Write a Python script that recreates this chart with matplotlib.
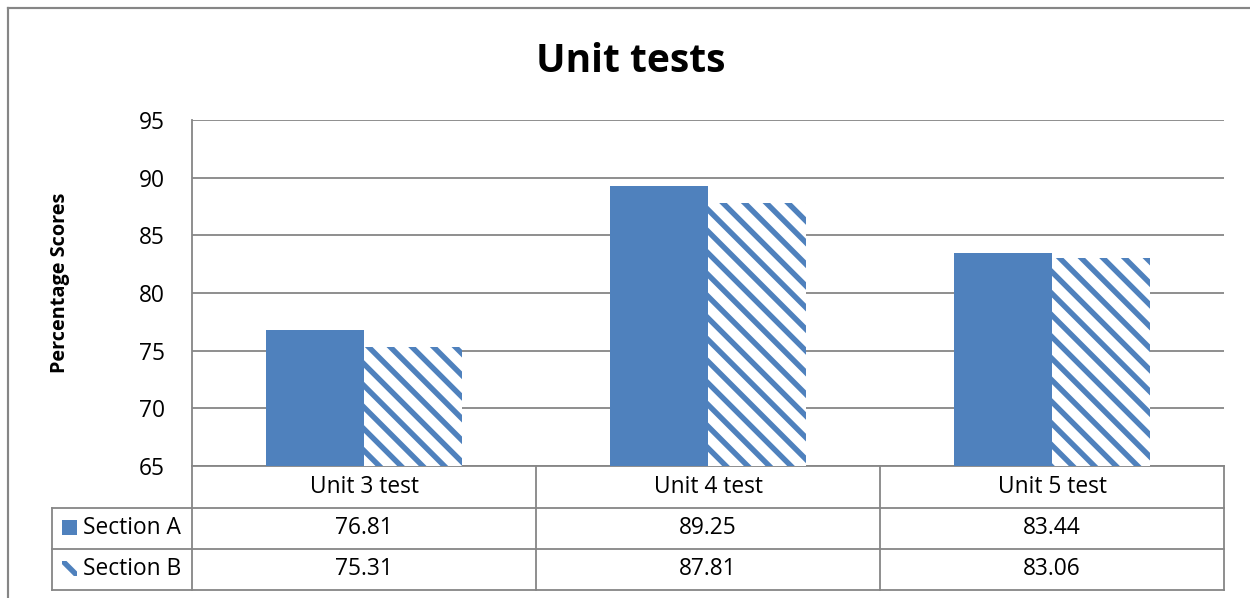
import matplotlib
matplotlib.use("Agg")
import matplotlib.pyplot as plt
from matplotlib.patches import Rectangle
from matplotlib.lines import Line2D
import matplotlib.transforms as mtransforms

categories = ["Unit 3 test", "Unit 4 test", "Unit 5 test"]
series_names = ["Section A", "Section B"]
section_a = [76.81, 89.25, 83.44]
section_b = [75.31, 87.81, 83.06]
y_ticks = [65, 70, 75, 80, 85, 90, 95]
title = "Unit tests"
y_label = "Percentage Scores"

BLUE = "#4F81BD"
GRID = "#868686"
W, H = 1250, 598
DPI = 130
FS = 12.6

plt.rcParams['font.family'] = ['Open Sans', 'DejaVu Sans']
plt.rcParams['hatch.linewidth'] = 3.0

fig = plt.figure(figsize=(W / DPI, H / DPI), dpi=DPI)

def fx(x):
    return x / W

def fy(y):
    return 1 - y / H

L, R, T, B = 192, 1224, 120, 466
ax = fig.add_axes([fx(L), fy(B), fx(R - L), fy(T) - fy(B)])

bw = 0.285
xs = list(range(len(categories)))
ax.bar([x + 0.5 - bw / 2 for x in xs], section_a, width=bw, color=BLUE,
       linewidth=0, zorder=3)
ax.bar([x + 0.5 + bw / 2 for x in xs], section_b, width=bw, facecolor="white",
       edgecolor=BLUE, hatch="\\\\", linewidth=0, zorder=3)

ax.set_xlim(0, len(categories))
ax.set_ylim(min(y_ticks), max(y_ticks))
ax.set_yticks(y_ticks)
ax.set_xticks([])
ax.yaxis.grid(True, color=GRID, linewidth=1.0, zorder=0)
ax.tick_params(axis='y', length=0, pad=15, labelsize=FS, labelcolor="black")
for s in ["top", "right"]:
    ax.spines[s].set_visible(False)
for s in ["left", "bottom"]:
    ax.spines[s].set_color(GRID)
    ax.spines[s].set_linewidth(1.0)

# title and y-label
fig.text(fx(631), fy(61), title, ha="center", va="center", fontsize=21.6,
         fontweight="bold")
fig.text(fx(60), fy(283), y_label, ha="center", va="center", rotation=90,
         fontsize=11.0, fontweight="bold")

# data table below the axes
lw = 1.0
def hline(x0, x1, y):
    fig.add_artist(Line2D([fx(x0), fx(x1)], [fy(y), fy(y)], color=GRID,
                          linewidth=lw, transform=fig.transFigure))
def vline(x, y0, y1):
    fig.add_artist(Line2D([fx(x), fx(x)], [fy(y0), fy(y1)], color=GRID,
                          linewidth=lw, transform=fig.transFigure))

hline(52, R, 508)
hline(52, R, 549)
hline(52, R, 590)
vline(52, 508, 590)
col_edges = [L + (R - L) * i / len(categories) for i in range(len(categories) + 1)]
for xe in col_edges:
    vline(xe, 466, 590)

blend = mtransforms.blended_transform_factory(ax.transData, fig.transFigure)
for i, cat in enumerate(categories):
    ax.text(i + 0.5, fy(487), cat, transform=blend, ha="center", va="center",
            fontsize=FS, clip_on=False)
    ax.text(i + 0.5, fy(528), f"{section_a[i]:.2f}", transform=blend,
            ha="center", va="center", fontsize=FS, clip_on=False)
    ax.text(i + 0.5, fy(569), f"{section_b[i]:.2f}", transform=blend,
            ha="center", va="center", fontsize=FS, clip_on=False)

# legend keys in table
fig.add_artist(Rectangle((fx(62), fy(535)), fx(15), fy(520) - fy(535),
                         transform=fig.transFigure, facecolor=BLUE,
                         linewidth=0))
fig.add_artist(Rectangle((fx(62), fy(576)), fx(15), fy(561) - fy(576),
                         transform=fig.transFigure, facecolor="white",
                         edgecolor=BLUE, hatch="\\\\", linewidth=0))
fig.text(fx(83), fy(528), series_names[0], ha="left", va="center", fontsize=FS)
fig.text(fx(83), fy(569), series_names[1], ha="left", va="center", fontsize=FS)

# outer chart border (left and top visible)
fig.add_artist(Line2D([fx(8), fx(8)], [fy(8), 0], color=GRID, linewidth=1.2,
                      transform=fig.transFigure))
fig.add_artist(Line2D([fx(8), 1], [fy(8), fy(8)], color=GRID, linewidth=1.2,
                      transform=fig.transFigure))

fig.savefig("out.png", dpi=DPI)
